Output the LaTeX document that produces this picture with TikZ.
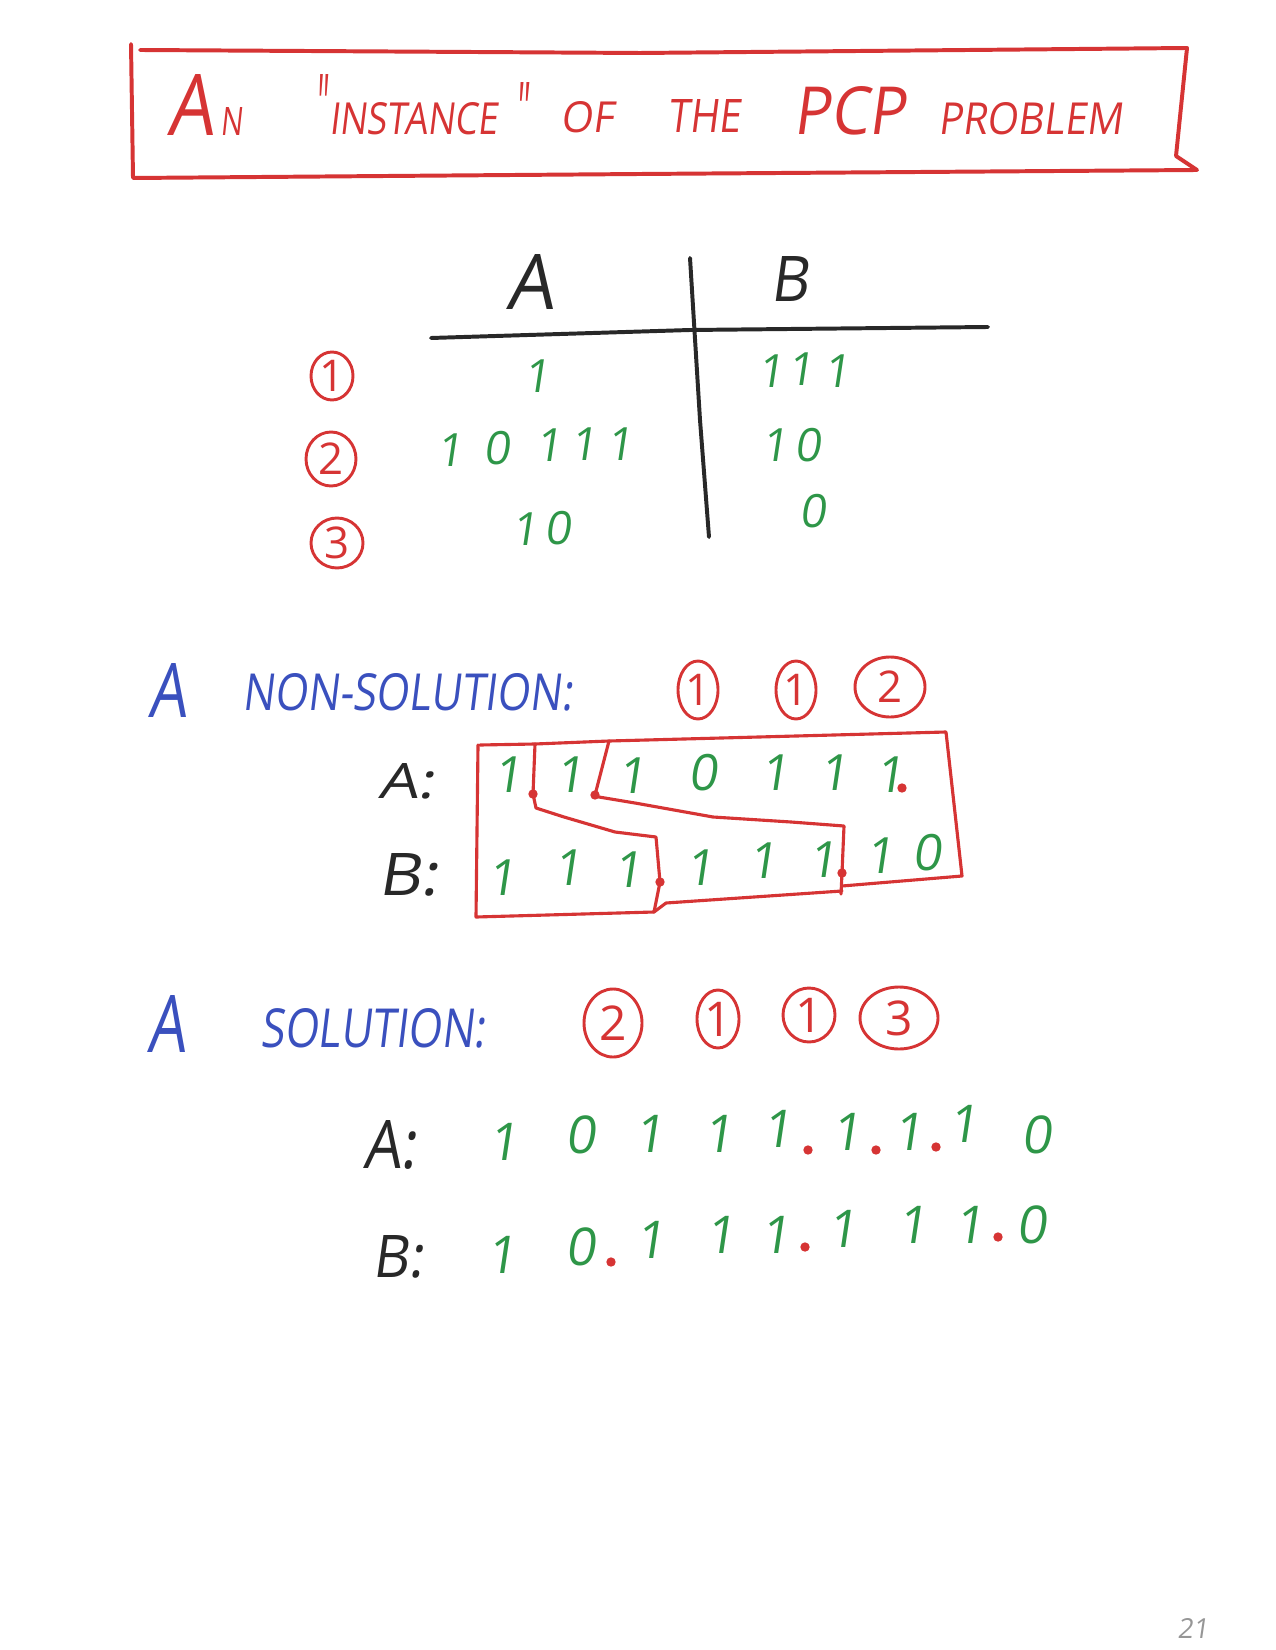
\documentclass[tikz,border=0pt]{standalone}
\usepackage{fontspec}
\usepackage{graphicx}
\newfontfamily\hand[FakeSlant=0.15]{Open Sans}
\newfontfamily\handup{Open Sans}
\usetikzlibrary{shapes.geometric}
\definecolor{penred}{RGB}{214,52,52}
\definecolor{pengreen}{RGB}{46,150,72}
\definecolor{penblue}{RGB}{58,80,190}
\definecolor{penink}{RGB}{40,40,40}
\definecolor{pagegray}{RGB}{150,150,150}
\newlength\px
\setlength\px{0.48pt}
\newcommand\handfit[3]{\resizebox{#1\px}{#2\px}{#3}}
\begin{document}
\begin{tikzpicture}[x=0.48pt,y=-0.48pt,
  redpen/.style={draw=penred,line width=1.9pt,line cap=round,line join=round},
  boxpen/.style={draw=penred,line width=1.5pt,line cap=round,line join=round},
  inkpen/.style={draw=penink,line width=1.9pt,line cap=round,line join=round},
  word/.style={inner sep=0pt,anchor=base west,font=\hand},
  dig/.style={inner sep=0pt,anchor=base,text=pengreen,font=\hand\fontsize{24}{24}\selectfont},
  sdig/.style={dig,font=\hand\fontsize{25}{25}\selectfont},
  num/.style n args={2}{ellipse,draw=penred,line width=1.4pt,inner sep=0pt,
    text=penred,font=\handup\fontsize{21}{21}\selectfont,
    minimum width=2*#1*0.48pt,minimum height=2*#2*0.48pt},
  snum/.style n args={2}{num={#1}{#2},font=\handup\fontsize{23}{23}\selectfont},
  reddot/.style={circle,fill=penred,inner sep=0pt,minimum size=4.5pt}]
\useasboundingbox[fill=white] (0,0) rectangle (1275,1650);

% ---------- title ----------
\draw[redpen] (140,50) -- (640,53) -- (1187,48) -- (1176,156) -- (1197,170)
  -- (640,174) -- (133,178) -- (131,44);
\node[word,text=penred] (tAN) at (167,136) {\handfit{46}{61}{A}\hspace{7\px}\handfit{22}{28}{N}};
\node[word,text=penred] (tINST) at (315,135) {\handfit{12}{60}{"}\hspace{2\px}\handfit{168}{32}{INSTANCE}\hspace{18\px}\handfit{13}{52}{"}};
\node[word,text=penred] (tOF) at (560,133) {\handfit{53}{31}{OF}};
\node[word,text=penred] (tTHE) at (667,133) {\handfit{73}{33}{THE}};
\node[word,text=penred] (tPCP) at (793,135) {\handfit{112}{48}{PCP}};
\node[word,text=penred] (tPROB) at (938,135) {\handfit{184}{32}{PROBLEM}};

% ---------- table ----------
\node[word,text=penink] (hA) at (506,310) {\handfit{47}{55}{A}};
\node[word,text=penink] (hB) at (770,302) {\handfit{38}{45}{B}};
\draw[inkpen] (690,258) -- (700,420) -- (709,537);
\draw[inkpen] (431,338) -- (690,330) -- (988,327);

\node[num={21}{24}] (r1) at (332,376) {1};
\node[num={25}{27}] (r2) at (331,459) {2};
\node[num={26}{25}] (r3) at (337,543) {3};

\foreach \x/\b/\d [count=\i] in {537/393/1,
    450/467/1,497/464/0,549/462/1,584/460/1,620/460/1,
    525/545/1,558/544/0}
  \node[dig,font=\hand\fontsize{22}{22}\selectfont] (ta\i) at (\x,\b) {\d};
\foreach \x/\b/\d [count=\i] in {771/388/1,801/386/1,837/388/1,
    775/462/1,808/462/0,
    813/527/0}
  \node[dig,font=\hand\fontsize{22}{22}\selectfont] (tb\i) at (\x,\b) {\d};

% ---------- non-solution ----------
\node[word,text=penblue] (nsA) at (148,717) {\handfit{38}{54}{A}};
\node[word,text=penblue] (nsT) at (242,710) {\handfit{330}{37}{NON-SOLUTION:}};
\node[num={20}{29}] (n1) at (698,690) {1};
\node[num={20}{29}] (n2) at (796,690) {1};
\node[num={35}{30}] (n3) at (890,687) {2};

\node[word,text=penink] (nlA) at (378,798) {\handfit{56}{35}{A:}};
\node[word,text=penink] (nlB) at (378,895) {\handfit{60}{42}{B:}};

\foreach \x/\b/\d [count=\i] in {508/792/1,570/792/1,632/793/1,703/790/0,
    775/790/1,834/790/1,890/792/1}
  \node[dig] (na\i) at (\x,\b) {\d};
\foreach \x/\b/\d [count=\i] in {502/895/1,568/885/1,628/887/1,700/885/1,
    763/878/1,823/877/1,880/873/1,927/870/0}
  \node[dig] (nb\i) at (\x,\b) {\d};

\node[reddot] (nd1) at (533,794) {};
\node[reddot] (nd2) at (595,795) {};
\node[reddot] (nd3) at (660,882) {};
\node[reddot] (nd4) at (842,873) {};
\node[reddot] (nd5) at (902,788) {};

\draw[boxpen] (480,745) -- (535,744) -- (609,741) -- (946,732) -- (962,876)
  -- (842,886);
\draw[boxpen] (842,891) -- (666,903) -- (654,912) -- (476,917) -- (478,745);
\draw[boxpen] (535,744) -- (nd1.center) -- (536,808) -- (564,817) -- (615,832)
  -- (656,837) -- (nd3.center) -- (654,912);
\draw[boxpen] (609,741) -- (nd2.center) -- (599,797) -- (635,803) -- (713,817)
  -- (791,822) -- (844,826) -- (nd4.center) -- (841,894);

% ---------- solution ----------
\node[word,text=penblue] (sA) at (147,1052) {\handfit{38}{57}{A}};
\node[word,text=penblue] (sT) at (260,1047) {\handfit{225}{39}{SOLUTION:}};
\node[snum={29}{34}] (s1) at (613,1023) {2};
\node[snum={21}{29}] (s2) at (718,1019) {1};
\node[snum={26}{27}] (s3) at (809,1015) {1};
\node[snum={39}{31}] (s4) at (899,1018) {3};

\node[word,text=penink] (slA) at (363,1168) {\handfit{53}{48}{A:}};
\node[word,text=penink] (slB) at (372,1277) {\handfit{51}{42}{B:}};

\foreach \x/\b/\d [count=\i] in {503/1160/1,580/1153/0,649/1152/1,718/1152/1,
    777/1147/1,846/1150/1,908/1150/1,963/1142/1,1036/1153/0}
  \node[sdig] (sa\i) at (\x,\b) {\d};
\foreach \x/\b/\d [count=\i] in {501/1273/1,580/1265/0,650/1258/1,720/1253/1,
    775/1253/1,842/1247/1,912/1243/1,969/1243/1,1031/1243/0}
  \node[sdig] (sb\i) at (\x,\b) {\d};

\node[reddot] (sd1) at (808,1150) {};
\node[reddot] (sd2) at (876,1150) {};
\node[reddot] (sd3) at (936,1147) {};
\node[reddot] (sd4) at (611,1262) {};
\node[reddot] (sd5) at (805,1247) {};
\node[reddot] (sd6) at (998,1237) {};

% ---------- page number ----------
\node[word,text=pagegray] (pg) at (1177,1638) {\handfit{31}{20}{21}};
\end{tikzpicture}
\end{document}
